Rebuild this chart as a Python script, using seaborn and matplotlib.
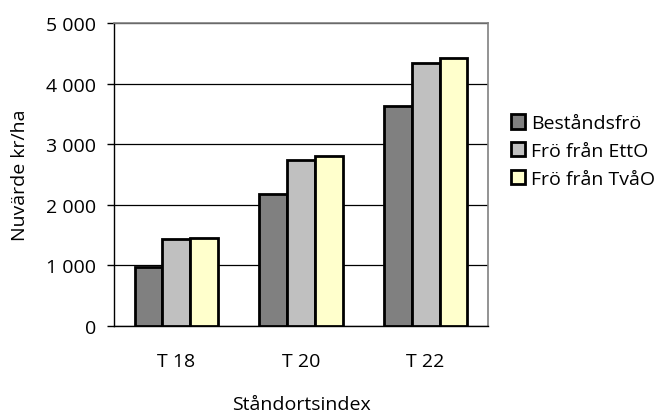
import matplotlib
matplotlib.use("Agg")
import matplotlib.pyplot as plt
from matplotlib.patches import Patch
from matplotlib.ticker import FuncFormatter, MultipleLocator
import seaborn as sns
import pandas as pd

categories = ["T 18", "T 20", "T 22"]
series = ["Beståndsfrö", "Frö från EttO", "Frö från TvåO"]
bestandsfro = [970, 2180, 3635]
fro_etto = [1435, 2740, 4340]
fro_tvao = [1447, 2800, 4422]
colors = ["#808080", "#C0C0C0", "#FFFFCC"]

rows = []
for name, vals in zip(series, [bestandsfro, fro_etto, fro_tvao]):
    for cat, v in zip(categories, vals):
        rows.append({"Ståndortsindex": cat, "Serie": name, "Värde": v})
df = pd.DataFrame(rows)

sns.set_style("white")
plt.rcParams["font.family"] = ["Open Sans", "DejaVu Sans"]
plt.rcParams["text.color"] = "black"
plt.rcParams["xtick.color"] = "black"
plt.rcParams["ytick.color"] = "black"
plt.rcParams["axes.labelcolor"] = "black"

FS = 14

fig = plt.figure(figsize=(6.61, 4.14), dpi=100)
ax = fig.add_axes([114 / 661, 1 - 327 / 414, (488 - 114) / 661, (327 - 24) / 414])

sns.barplot(data=df, x="Ståndortsindex", y="Värde", hue="Serie",
            hue_order=series, palette=colors, width=0.67, gap=0,
            edgecolor="black", linewidth=2.0, saturation=1,
            errorbar=None, ax=ax, legend=False, zorder=3)

ax.set_ylim(0, 5000)
ax.set_xlim(-0.5, 2.5)
ax.yaxis.set_major_locator(MultipleLocator(1000))
ax.yaxis.set_major_formatter(FuncFormatter(lambda v, _: f"{int(v):,}".replace(",", " ")))
ax.grid(axis="y", color="black", linewidth=0.9, zorder=0)
ax.set_axisbelow(True)

for side in ["top", "right"]:
    ax.spines[side].set_color("#808080")
    ax.spines[side].set_linewidth(1.2)
for side in ["left", "bottom"]:
    ax.spines[side].set_color("black")
    ax.spines[side].set_linewidth(1.0)

# category separators as bottom ticks
ax.set_xticks([-0.5, 0.5, 1.5, 2.5], minor=False)
ax.set_xticklabels([])
ax.set_xticks([0, 1, 2], minor=True)
ax.set_xticklabels(categories, minor=True)
ax.tick_params(axis="x", which="major", direction="out", length=6, width=1, color="black")
ax.tick_params(axis="x", which="minor", length=0, pad=19, labelsize=FS)
ax.tick_params(axis="y", direction="out", length=5, width=1, color="black",
               labelsize=FS, pad=8, left=True)

ax.set_xlabel("Ståndortsindex", fontsize=FS, labelpad=18)
ax.set_ylabel("Nuvärde kr/ha", fontsize=FS, labelpad=12)

handles = [Patch(facecolor=c, edgecolor="black", linewidth=2.0) for c in colors]
fig.legend(handles, series, loc="center left", bbox_to_anchor=(503 / 661, 1 - 152 / 414),
           frameon=False, fontsize=FS, handlelength=0.75, handleheight=0.75,
           handletextpad=0.3, labelspacing=0.5, borderaxespad=0)

fig.savefig("out.png", dpi=100)
